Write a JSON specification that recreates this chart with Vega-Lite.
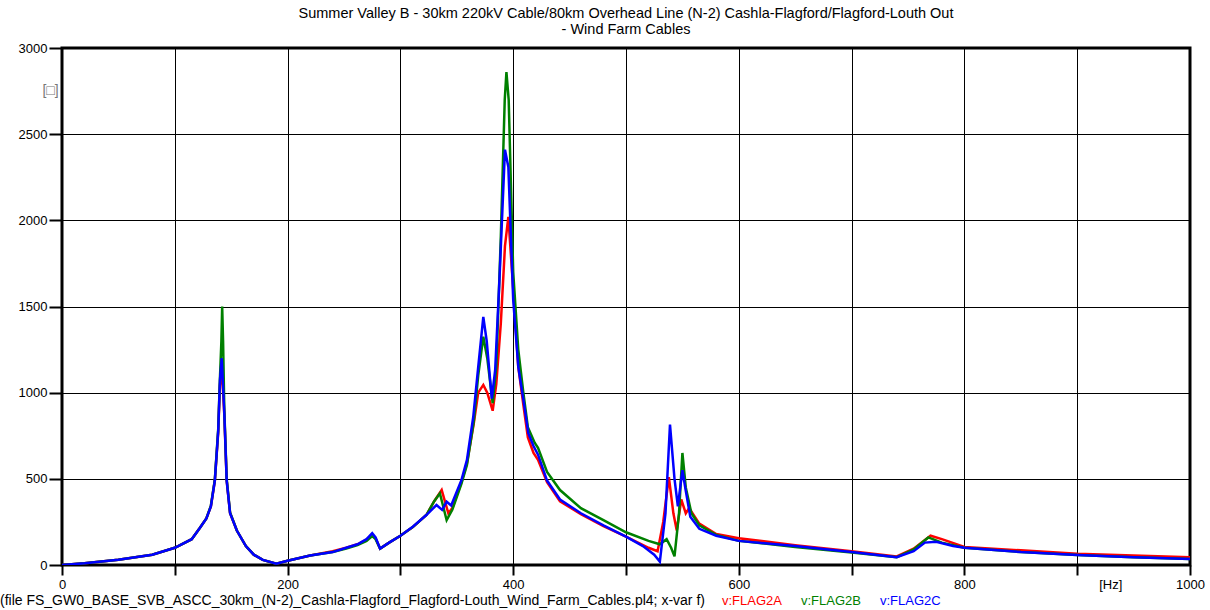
{
  "$schema": "https://vega.github.io/schema/vega-lite/v6.json",
  "width": 1128,
  "height": 517,
  "autosize": {"type": "none"},
  "padding": {"left": 62, "top": 48, "right": 20, "bottom": 45},
  "background": "white",
  "title": {
    "text": ["Summer Valley B - 30km 220kV Cable/80km Overhead Line (N-2) Cashla-Flagford/Flagford-Louth Out", "- Wind Farm Cables"],
    "anchor": "middle",
    "font": "Liberation Sans",
    "fontSize": 14.5,
    "fontWeight": "normal",
    "lineHeight": 16,
    "offset": 5,
    "color": "black"
  },
  "config": {
    "font": "Liberation Sans",
    "view": {"stroke": "black", "strokeWidth": 3},
    "axis": {
      "labelFont": "Liberation Sans",
      "labelFontSize": 13,
      "labelColor": "black",
      "domain": false,
      "grid": true,
      "gridColor": "black",
      "gridWidth": 1,
      "gridOpacity": 1,
      "tickColor": "black",
      "tickWidth": 2
    }
  },
  "data": {
    "values": [
      {"s": "v:FLAG2A", "f": 0, "v": 0}, {"s": "v:FLAG2A", "f": 20, "v": 10}, {"s": "v:FLAG2A", "f": 50, "v": 30}, {"s": "v:FLAG2A", "f": 80, "v": 60}, {"s": "v:FLAG2A", "f": 100, "v": 100}, {"s": "v:FLAG2A", "f": 115, "v": 150}, {"s": "v:FLAG2A", "f": 122, "v": 213}, {"s": "v:FLAG2A", "f": 128, "v": 270}, {"s": "v:FLAG2A", "f": 132, "v": 340}, {"s": "v:FLAG2A", "f": 135.5, "v": 490}, {"s": "v:FLAG2A", "f": 138.5, "v": 770}, {"s": "v:FLAG2A", "f": 140, "v": 1040}, {"s": "v:FLAG2A", "f": 141.6, "v": 1150}, {"s": "v:FLAG2A", "f": 143.9, "v": 870}, {"s": "v:FLAG2A", "f": 146, "v": 490}, {"s": "v:FLAG2A", "f": 149, "v": 300}, {"s": "v:FLAG2A", "f": 155, "v": 200}, {"s": "v:FLAG2A", "f": 163, "v": 110}, {"s": "v:FLAG2A", "f": 170, "v": 60}, {"s": "v:FLAG2A", "f": 178, "v": 30}, {"s": "v:FLAG2A", "f": 190, "v": 8}, {"s": "v:FLAG2A", "f": 200, "v": 25}, {"s": "v:FLAG2A", "f": 220, "v": 55}, {"s": "v:FLAG2A", "f": 240, "v": 80}, {"s": "v:FLAG2A", "f": 252, "v": 100}, {"s": "v:FLAG2A", "f": 262, "v": 120}, {"s": "v:FLAG2A", "f": 270, "v": 148}, {"s": "v:FLAG2A", "f": 275, "v": 175}, {"s": "v:FLAG2A", "f": 278, "v": 155}, {"s": "v:FLAG2A", "f": 282, "v": 95}, {"s": "v:FLAG2A", "f": 290, "v": 130}, {"s": "v:FLAG2A", "f": 300, "v": 170}, {"s": "v:FLAG2A", "f": 311, "v": 220}, {"s": "v:FLAG2A", "f": 323, "v": 290}, {"s": "v:FLAG2A", "f": 330, "v": 370}, {"s": "v:FLAG2A", "f": 336.6, "v": 435}, {"s": "v:FLAG2A", "f": 342.5, "v": 300}, {"s": "v:FLAG2A", "f": 346, "v": 330}, {"s": "v:FLAG2A", "f": 354, "v": 480}, {"s": "v:FLAG2A", "f": 359, "v": 590}, {"s": "v:FLAG2A", "f": 365, "v": 820}, {"s": "v:FLAG2A", "f": 369, "v": 1000}, {"s": "v:FLAG2A", "f": 373.5, "v": 1045}, {"s": "v:FLAG2A", "f": 377, "v": 1000}, {"s": "v:FLAG2A", "f": 381.8, "v": 895}, {"s": "v:FLAG2A", "f": 385, "v": 1050}, {"s": "v:FLAG2A", "f": 389, "v": 1400}, {"s": "v:FLAG2A", "f": 392.7, "v": 1850}, {"s": "v:FLAG2A", "f": 395.7, "v": 2020}, {"s": "v:FLAG2A", "f": 400, "v": 1600}, {"s": "v:FLAG2A", "f": 404.5, "v": 1150}, {"s": "v:FLAG2A", "f": 409, "v": 930}, {"s": "v:FLAG2A", "f": 413, "v": 740}, {"s": "v:FLAG2A", "f": 418, "v": 650}, {"s": "v:FLAG2A", "f": 422, "v": 610}, {"s": "v:FLAG2A", "f": 430, "v": 480}, {"s": "v:FLAG2A", "f": 441.5, "v": 370}, {"s": "v:FLAG2A", "f": 460, "v": 295}, {"s": "v:FLAG2A", "f": 480, "v": 225}, {"s": "v:FLAG2A", "f": 500, "v": 165}, {"s": "v:FLAG2A", "f": 520, "v": 100}, {"s": "v:FLAG2A", "f": 528, "v": 80}, {"s": "v:FLAG2A", "f": 533, "v": 250}, {"s": "v:FLAG2A", "f": 538, "v": 510}, {"s": "v:FLAG2A", "f": 542, "v": 300}, {"s": "v:FLAG2A", "f": 545, "v": 200}, {"s": "v:FLAG2A", "f": 549, "v": 380}, {"s": "v:FLAG2A", "f": 553, "v": 300}, {"s": "v:FLAG2A", "f": 556, "v": 330}, {"s": "v:FLAG2A", "f": 565, "v": 240}, {"s": "v:FLAG2A", "f": 580, "v": 180}, {"s": "v:FLAG2A", "f": 600, "v": 155}, {"s": "v:FLAG2A", "f": 650, "v": 115}, {"s": "v:FLAG2A", "f": 700, "v": 80}, {"s": "v:FLAG2A", "f": 740, "v": 50}, {"s": "v:FLAG2A", "f": 755, "v": 95}, {"s": "v:FLAG2A", "f": 770, "v": 170}, {"s": "v:FLAG2A", "f": 780, "v": 150}, {"s": "v:FLAG2A", "f": 800, "v": 105}, {"s": "v:FLAG2A", "f": 850, "v": 85}, {"s": "v:FLAG2A", "f": 900, "v": 65}, {"s": "v:FLAG2A", "f": 950, "v": 55}, {"s": "v:FLAG2A", "f": 1000, "v": 45},

      {"s": "v:FLAG2B", "f": 0, "v": 0}, {"s": "v:FLAG2B", "f": 20, "v": 10}, {"s": "v:FLAG2B", "f": 50, "v": 30}, {"s": "v:FLAG2B", "f": 80, "v": 60}, {"s": "v:FLAG2B", "f": 100, "v": 100}, {"s": "v:FLAG2B", "f": 115, "v": 150}, {"s": "v:FLAG2B", "f": 122, "v": 213}, {"s": "v:FLAG2B", "f": 128, "v": 270}, {"s": "v:FLAG2B", "f": 132, "v": 345}, {"s": "v:FLAG2B", "f": 135.5, "v": 495}, {"s": "v:FLAG2B", "f": 138.5, "v": 790}, {"s": "v:FLAG2B", "f": 140, "v": 1080}, {"s": "v:FLAG2B", "f": 141.3, "v": 1300}, {"s": "v:FLAG2B", "f": 142, "v": 1500}, {"s": "v:FLAG2B", "f": 142.8, "v": 1300}, {"s": "v:FLAG2B", "f": 143.9, "v": 900}, {"s": "v:FLAG2B", "f": 146, "v": 500}, {"s": "v:FLAG2B", "f": 149, "v": 305}, {"s": "v:FLAG2B", "f": 155, "v": 200}, {"s": "v:FLAG2B", "f": 163, "v": 110}, {"s": "v:FLAG2B", "f": 170, "v": 60}, {"s": "v:FLAG2B", "f": 178, "v": 30}, {"s": "v:FLAG2B", "f": 190, "v": 8}, {"s": "v:FLAG2B", "f": 200, "v": 25}, {"s": "v:FLAG2B", "f": 220, "v": 55}, {"s": "v:FLAG2B", "f": 240, "v": 75}, {"s": "v:FLAG2B", "f": 252, "v": 95}, {"s": "v:FLAG2B", "f": 262, "v": 115}, {"s": "v:FLAG2B", "f": 270, "v": 140}, {"s": "v:FLAG2B", "f": 275, "v": 168}, {"s": "v:FLAG2B", "f": 278, "v": 150}, {"s": "v:FLAG2B", "f": 282, "v": 95}, {"s": "v:FLAG2B", "f": 290, "v": 130}, {"s": "v:FLAG2B", "f": 300, "v": 170}, {"s": "v:FLAG2B", "f": 311, "v": 220}, {"s": "v:FLAG2B", "f": 323, "v": 290}, {"s": "v:FLAG2B", "f": 330, "v": 370}, {"s": "v:FLAG2B", "f": 335, "v": 416}, {"s": "v:FLAG2B", "f": 341, "v": 260}, {"s": "v:FLAG2B", "f": 346, "v": 320}, {"s": "v:FLAG2B", "f": 354, "v": 470}, {"s": "v:FLAG2B", "f": 359, "v": 580}, {"s": "v:FLAG2B", "f": 365, "v": 830}, {"s": "v:FLAG2B", "f": 369, "v": 1100}, {"s": "v:FLAG2B", "f": 373.5, "v": 1325}, {"s": "v:FLAG2B", "f": 377, "v": 1200}, {"s": "v:FLAG2B", "f": 381.8, "v": 940}, {"s": "v:FLAG2B", "f": 385, "v": 1150}, {"s": "v:FLAG2B", "f": 389, "v": 1900}, {"s": "v:FLAG2B", "f": 392.5, "v": 2700}, {"s": "v:FLAG2B", "f": 394, "v": 2860}, {"s": "v:FLAG2B", "f": 396, "v": 2700}, {"s": "v:FLAG2B", "f": 400, "v": 1700}, {"s": "v:FLAG2B", "f": 404.5, "v": 1250}, {"s": "v:FLAG2B", "f": 409, "v": 1000}, {"s": "v:FLAG2B", "f": 413, "v": 800}, {"s": "v:FLAG2B", "f": 419, "v": 710}, {"s": "v:FLAG2B", "f": 422, "v": 680}, {"s": "v:FLAG2B", "f": 430, "v": 540}, {"s": "v:FLAG2B", "f": 441.5, "v": 435}, {"s": "v:FLAG2B", "f": 460, "v": 330}, {"s": "v:FLAG2B", "f": 480, "v": 260}, {"s": "v:FLAG2B", "f": 500, "v": 190}, {"s": "v:FLAG2B", "f": 520, "v": 140}, {"s": "v:FLAG2B", "f": 530, "v": 120}, {"s": "v:FLAG2B", "f": 536, "v": 150}, {"s": "v:FLAG2B", "f": 540, "v": 100}, {"s": "v:FLAG2B", "f": 543, "v": 50}, {"s": "v:FLAG2B", "f": 547, "v": 300}, {"s": "v:FLAG2B", "f": 550, "v": 650}, {"s": "v:FLAG2B", "f": 553, "v": 450}, {"s": "v:FLAG2B", "f": 558, "v": 300}, {"s": "v:FLAG2B", "f": 565, "v": 230}, {"s": "v:FLAG2B", "f": 580, "v": 175}, {"s": "v:FLAG2B", "f": 600, "v": 140}, {"s": "v:FLAG2B", "f": 650, "v": 105}, {"s": "v:FLAG2B", "f": 700, "v": 72}, {"s": "v:FLAG2B", "f": 740, "v": 45}, {"s": "v:FLAG2B", "f": 755, "v": 90}, {"s": "v:FLAG2B", "f": 768, "v": 160}, {"s": "v:FLAG2B", "f": 780, "v": 130}, {"s": "v:FLAG2B", "f": 800, "v": 100}, {"s": "v:FLAG2B", "f": 850, "v": 75}, {"s": "v:FLAG2B", "f": 900, "v": 58}, {"s": "v:FLAG2B", "f": 950, "v": 45}, {"s": "v:FLAG2B", "f": 1000, "v": 35},

      {"s": "v:FLAG2C", "f": 0, "v": 0}, {"s": "v:FLAG2C", "f": 20, "v": 10}, {"s": "v:FLAG2C", "f": 50, "v": 30}, {"s": "v:FLAG2C", "f": 80, "v": 60}, {"s": "v:FLAG2C", "f": 100, "v": 100}, {"s": "v:FLAG2C", "f": 115, "v": 150}, {"s": "v:FLAG2C", "f": 122, "v": 213}, {"s": "v:FLAG2C", "f": 128, "v": 270}, {"s": "v:FLAG2C", "f": 132, "v": 340}, {"s": "v:FLAG2C", "f": 135.5, "v": 490}, {"s": "v:FLAG2C", "f": 138.5, "v": 780}, {"s": "v:FLAG2C", "f": 140, "v": 1070}, {"s": "v:FLAG2C", "f": 141.6, "v": 1200}, {"s": "v:FLAG2C", "f": 143.9, "v": 880}, {"s": "v:FLAG2C", "f": 146, "v": 490}, {"s": "v:FLAG2C", "f": 149, "v": 300}, {"s": "v:FLAG2C", "f": 155, "v": 200}, {"s": "v:FLAG2C", "f": 163, "v": 110}, {"s": "v:FLAG2C", "f": 170, "v": 60}, {"s": "v:FLAG2C", "f": 178, "v": 30}, {"s": "v:FLAG2C", "f": 190, "v": 8}, {"s": "v:FLAG2C", "f": 200, "v": 25}, {"s": "v:FLAG2C", "f": 220, "v": 55}, {"s": "v:FLAG2C", "f": 240, "v": 75}, {"s": "v:FLAG2C", "f": 252, "v": 100}, {"s": "v:FLAG2C", "f": 262, "v": 120}, {"s": "v:FLAG2C", "f": 270, "v": 150}, {"s": "v:FLAG2C", "f": 275, "v": 185}, {"s": "v:FLAG2C", "f": 278, "v": 160}, {"s": "v:FLAG2C", "f": 282, "v": 95}, {"s": "v:FLAG2C", "f": 290, "v": 130}, {"s": "v:FLAG2C", "f": 300, "v": 170}, {"s": "v:FLAG2C", "f": 311, "v": 222}, {"s": "v:FLAG2C", "f": 323, "v": 290}, {"s": "v:FLAG2C", "f": 332, "v": 348}, {"s": "v:FLAG2C", "f": 337, "v": 320}, {"s": "v:FLAG2C", "f": 341, "v": 367}, {"s": "v:FLAG2C", "f": 345, "v": 345}, {"s": "v:FLAG2C", "f": 354, "v": 490}, {"s": "v:FLAG2C", "f": 359, "v": 610}, {"s": "v:FLAG2C", "f": 364.6, "v": 860}, {"s": "v:FLAG2C", "f": 369, "v": 1150}, {"s": "v:FLAG2C", "f": 373.5, "v": 1440}, {"s": "v:FLAG2C", "f": 376.5, "v": 1300}, {"s": "v:FLAG2C", "f": 381, "v": 965}, {"s": "v:FLAG2C", "f": 384, "v": 1130}, {"s": "v:FLAG2C", "f": 387.7, "v": 1640}, {"s": "v:FLAG2C", "f": 392.7, "v": 2410}, {"s": "v:FLAG2C", "f": 395.7, "v": 2310}, {"s": "v:FLAG2C", "f": 400, "v": 1540}, {"s": "v:FLAG2C", "f": 404.5, "v": 1150}, {"s": "v:FLAG2C", "f": 409, "v": 960}, {"s": "v:FLAG2C", "f": 413.4, "v": 765}, {"s": "v:FLAG2C", "f": 418, "v": 690}, {"s": "v:FLAG2C", "f": 422, "v": 640}, {"s": "v:FLAG2C", "f": 430, "v": 490}, {"s": "v:FLAG2C", "f": 441.5, "v": 380}, {"s": "v:FLAG2C", "f": 460, "v": 300}, {"s": "v:FLAG2C", "f": 480, "v": 230}, {"s": "v:FLAG2C", "f": 500, "v": 165}, {"s": "v:FLAG2C", "f": 515, "v": 110}, {"s": "v:FLAG2C", "f": 525, "v": 60}, {"s": "v:FLAG2C", "f": 530, "v": 20}, {"s": "v:FLAG2C", "f": 535, "v": 300}, {"s": "v:FLAG2C", "f": 539, "v": 815}, {"s": "v:FLAG2C", "f": 543, "v": 500}, {"s": "v:FLAG2C", "f": 546, "v": 340}, {"s": "v:FLAG2C", "f": 550, "v": 550}, {"s": "v:FLAG2C", "f": 553, "v": 430}, {"s": "v:FLAG2C", "f": 557, "v": 280}, {"s": "v:FLAG2C", "f": 565, "v": 210}, {"s": "v:FLAG2C", "f": 580, "v": 170}, {"s": "v:FLAG2C", "f": 600, "v": 140}, {"s": "v:FLAG2C", "f": 650, "v": 110}, {"s": "v:FLAG2C", "f": 700, "v": 75}, {"s": "v:FLAG2C", "f": 740, "v": 45}, {"s": "v:FLAG2C", "f": 755, "v": 80}, {"s": "v:FLAG2C", "f": 765, "v": 130}, {"s": "v:FLAG2C", "f": 775, "v": 135}, {"s": "v:FLAG2C", "f": 790, "v": 110}, {"s": "v:FLAG2C", "f": 800, "v": 100}, {"s": "v:FLAG2C", "f": 850, "v": 75}, {"s": "v:FLAG2C", "f": 900, "v": 58}, {"s": "v:FLAG2C", "f": 950, "v": 45}, {"s": "v:FLAG2C", "f": 1000, "v": 35}
    ]
  },
  "mark": {"type": "line", "strokeWidth": 2.5, "clip": true},
  "encoding": {
    "x": {
      "field": "f",
      "type": "quantitative",
      "scale": {"domain": [0, 1000], "nice": false, "zero": false},
      "axis": {
        "title": null,
        "format": "d",
        "values": [0, 100, 200, 300, 400, 500, 600, 700, 800, 900, 1000],
        "labelExpr": "datum.value == 900 ? '[Hz]' : (datum.value % 200 == 0 ? datum.label : '')",
        "labelOffset": {"condition": {"test": "datum.value == 900", "value": 33}, "value": 0},
        "tickSize": 10,
        "labelPadding": 3,
        "labelFlush": false,
        "labelOverlap": false
      }
    },
    "y": {
      "field": "v",
      "type": "quantitative",
      "scale": {"domain": [0, 3000], "nice": false},
      "axis": {
        "title": "[□]",
        "titleAngle": 0,
        "titleX": -12,
        "titleY": 42,
        "titleAlign": "center",
        "titleBaseline": "middle",
        "titleFont": "Liberation Sans",
        "titleFontSize": 14,
        "titleFontWeight": "normal",
        "titleColor": "#777777",
        "values": [0, 500, 1000, 1500, 2000, 2500, 3000],
        "format": "d",
        "tickSize": 13,
        "labelPadding": 2,
        "labelFlush": false,
        "labelOverlap": false
      }
    },
    "color": {
      "field": "s",
      "type": "nominal",
      "scale": {"domain": ["v:FLAG2A", "v:FLAG2B", "v:FLAG2C"], "range": ["#ff0000", "#008000", "#0000ff"]},
      "legend": {
        "title": "(file FS_GW0_BASE_SVB_ASCC_30km_(N-2)_Cashla-Flagford_Flagford-Louth_Wind_Farm_Cables.pl4; x-var f)",
        "titleOrient": "left",
        "titleFont": "Liberation Sans",
        "titleFontSize": 14,
        "titleFontWeight": "normal",
        "titleColor": "black",
        "titleLimit": 2000,
        "titlePadding": 4,
        "titleBaseline": "middle",
        "orient": "none",
        "legendX": -62,
        "legendY": 546,
        "direction": "horizontal",
        "padding": 0,
        "symbolSize": 0,
        "symbolStrokeWidth": 0,
        "symbolOpacity": 0,
        "labelOffset": 0,
        "columnPadding": 6,
        "labelFont": "Liberation Sans",
        "labelFontSize": 13,
        "labelColor": {"expr": "datum.label == 'v:FLAG2A' ? '#ff0000' : (datum.label == 'v:FLAG2B' ? '#008000' : '#0000ff')"}
      }
    }
  }
}
